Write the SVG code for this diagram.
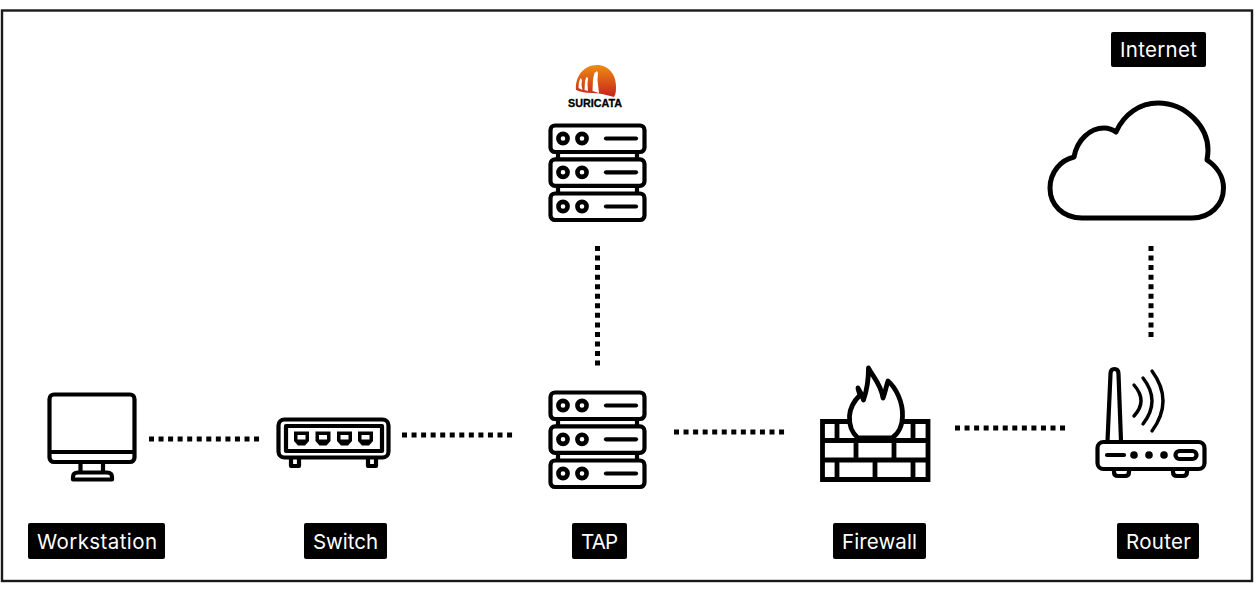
<svg xmlns="http://www.w3.org/2000/svg" width="1258" height="597" viewBox="0 0 1258 597">
<style>
.ic{fill:none;stroke:#000;stroke-width:4.200;stroke-linejoin:round;stroke-linecap:round}
.wh{fill:#fff}
.bk{fill:#000;stroke:none}
.dot{fill:none;stroke:#000;stroke-width:5;stroke-dasharray:5 4.55}
.lb{fill:#000}
.tx{fill:#fff;font-family:"Inter","Open Sans",sans-serif;font-size:20.500px;font-weight:400}
</style>
<defs>
<linearGradient id="sun" x1="0" y1="0" x2="0" y2="1"><stop offset="0" stop-color="#ef8c14"/><stop offset="1" stop-color="#c5231c"/></linearGradient>
<g id="server">
<path class="ic" d="M558 153V193M637 153V193"/>
<g id="r"><rect class="ic wh" style="fill:#fff" x="550.500" y="125.500" width="94" height="26.500" rx="4.500"/><circle class="ic" style="stroke-width:4.600" cx="563" cy="138.500" r="4.600"/><circle class="ic" style="stroke-width:4.600" cx="582" cy="138.500" r="4.600"/><path class="ic" d="M606 138.500H636"/></g>
<use href="#r" y="33.800"/><use href="#r" y="68"/>
</g>
</defs>
<rect width="1258" height="597" fill="#fff"/>
<rect x="2" y="10.500" width="1250" height="570.500" fill="#fff" stroke="#1a1a1a" stroke-width="2.400"/>
<g id="connectors">
<path class="dot" d="M149 439H260"/>
<path class="dot" d="M402 435H513"/>
<path class="dot" d="M674 432H785"/>
<path class="dot" d="M955 428H1067"/>
<path class="dot" d="M597.500 246V366"/>
<path class="dot" d="M1151 246V337"/>
</g>
<g id="suricata">
<use href="#server"/>
<path d="M576 90C575 76 584 65 597 65C609 65 616 75 616 86C616 90 616 94 614 97C606 95 600 93 592 93C586 93 580 92 576 90Z" fill="url(#sun)"/>
<path class="wh" d="M592.500 91L593 79L594.500 73L597 71L598 73L597.500 80L599 93ZM584.500 90L585 81L586.500 77L588 78L587.500 84L588 91ZM578.500 88L579 82L580.500 78L582 80L581.500 85L582.500 90Z"/>
<text x="595" y="107" font-family="Liberation Sans, sans-serif" font-size="11" font-weight="700" text-anchor="middle" textLength="54" lengthAdjust="spacingAndGlyphs" stroke="#000" stroke-width=".3">SURICATA</text>
</g>
<g id="tap"><use href="#server" y="267"/><rect class="lb" x="572" y="523" width="55" height="36" rx="2"/><text class="tx" x="581" y="548.500" textLength="37" lengthAdjust="spacing">TAP</text></g>
<g id="workstation">
<rect class="ic" x="49.500" y="394.500" width="85" height="67.500" rx="4.500"/>
<path class="ic" d="M50 452H134M80.500 462V472M103 462V472"/>
<path class="ic" d="M73 479.500V477Q73 472.500 78 472.500H107Q112 472.500 112 477V479.500Z"/>
<rect class="lb" x="28" y="523" width="137" height="36" rx="2"/><text class="tx" x="37" y="548.500" textLength="120" lengthAdjust="spacing">Workstation</text>
</g>
<g id="switch">
<rect class="ic" x="278.500" y="419.500" width="110" height="38" rx="6"/>
<rect class="ic" x="286" y="426" width="96" height="25"/>
<path id="p" class="bk" d="M294 431.500H309V441L305 445.500H298L294 441Z"/>
<path id="q" d="M297.500 435H305.500V439.500H297.500Z" fill="#fff"/>
<use href="#p" x="21.500"/><use href="#q" x="21.500"/><use href="#p" x="43"/><use href="#q" x="43"/><use href="#p" x="64"/><use href="#q" x="64"/>
<path class="ic" d="M291 458V466H299V458M368 458V466H376V458"/>
<rect class="lb" x="304" y="523" width="83" height="36" rx="2"/><text class="tx" x="313" y="548.500" textLength="65" lengthAdjust="spacing">Switch</text>
</g>
<g id="firewall">
<path class="ic" style="stroke-width:4.800;stroke-linejoin:miter;stroke-linecap:butt" d="M822.500 421.500H928V479.500H822.500ZM822 440.500H928M822 460H928M837 421V440M913 421V440M856 441V460M894 441V460M837 460V479M875 460V479M913 460V479"/>
<path class="ic" style="stroke-width:4.800;fill:#fff" d="M868.500 368C873 377 881 384 883 398C885 393 886 387 888 381C896 388 903 402 902.500 416C902.500 426 898 434 892 438H858C852 433 849 425 849.500 416C850 406 857 398 860 395C859 392 858 390 858 388C860 391 862 395 863.500 400C867 390 868.500 378 868.500 368Z"/>
<rect class="lb" x="833" y="523" width="93" height="36" rx="2"/><text class="tx" x="842" y="548.500" textLength="75" lengthAdjust="spacing">Firewall</text>
</g>
<g id="router">
<rect class="ic" x="1097.500" y="442" width="107" height="27" rx="6"/>
<path class="ic" d="M1107.500 441L1110.500 374Q1110.500 369 1114.500 369Q1118.500 369 1118.500 374L1121 441"/>
<path class="ic" d="M1107 455H1124"/>
<circle class="bk" cx="1134" cy="455" r="3.800"/><circle class="bk" cx="1149" cy="455" r="3.800"/><circle class="bk" cx="1164" cy="455" r="3.800"/>
<rect class="ic" x="1175.500" y="451" width="21" height="8" rx="4"/>
<path class="ic" d="M1114 470V472Q1114 476 1118 476H1125Q1129 476 1129 472V470M1173 470V472Q1173 476 1177 476H1183Q1187 476 1187 472V470"/>
<path class="ic" style="stroke-width:3.400" d="M1134 385Q1148 401 1134 416M1143 378Q1161 401 1143 424M1152 371Q1174 401 1152 431"/>
<rect class="lb" x="1117" y="523" width="82" height="36" rx="2"/><text class="tx" x="1126" y="548.500" textLength="65" lengthAdjust="spacing">Router</text>
</g>
<g id="internet">
<path class="ic" style="stroke-width:5" d="M1082 218C1063 218 1050 205 1050 188C1050 172 1061 160 1074 157C1077 140 1090 128 1104 128C1108 128 1112 129 1116 132C1124 114 1140 103 1158 103C1186 103 1208 127 1208 150C1208 154 1207.500 157 1207 160C1216 166 1223.500 176 1223.500 188C1223.500 205 1210 218 1192 218Z"/>
<rect class="lb" x="1111" y="32" width="95" height="35" rx="2"/><text class="tx" x="1120" y="57" textLength="77" lengthAdjust="spacing">Internet</text>
</g>
</svg>
